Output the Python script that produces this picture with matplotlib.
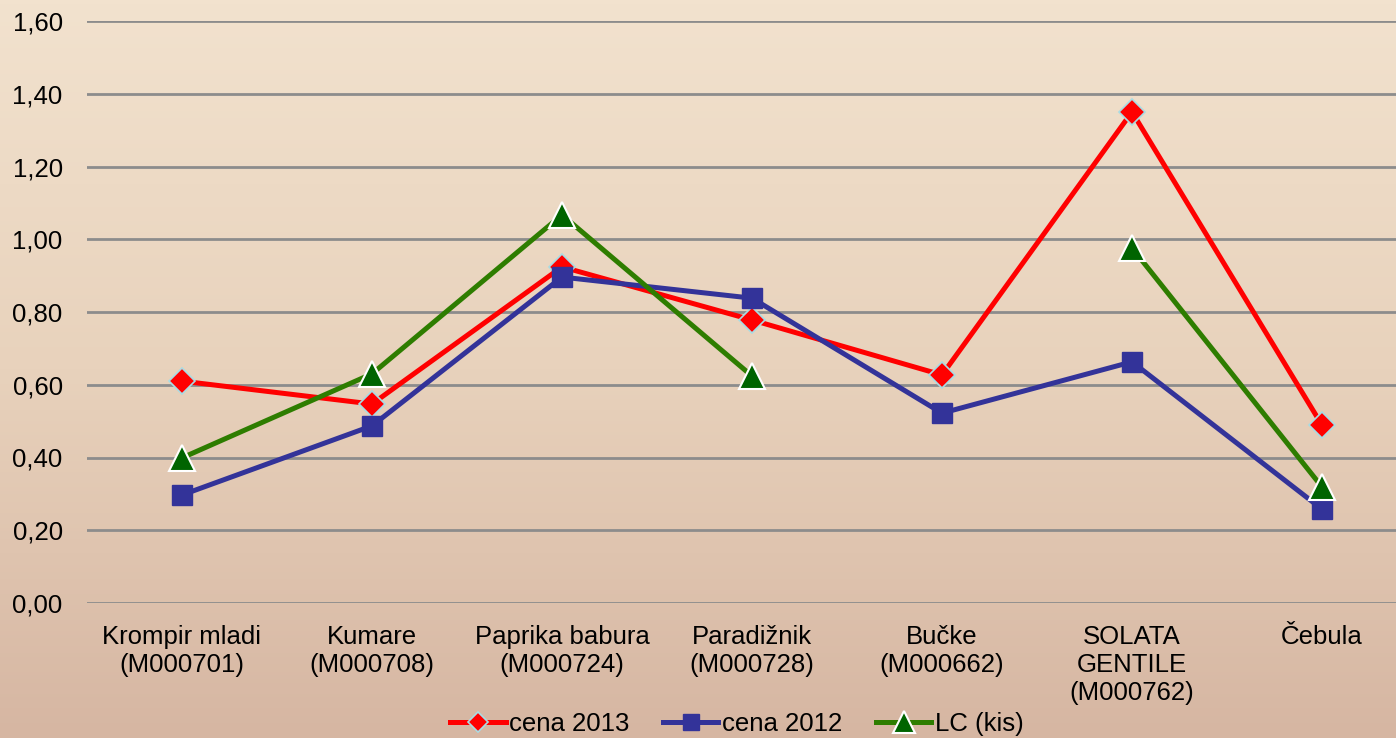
import numpy as np
import matplotlib
matplotlib.use("Agg")
import matplotlib.pyplot as plt

plt.rcParams['font.family'] = ['Liberation Sans', 'DejaVu Sans']

categories = ['Krompir mladi\n(M000701)', 'Kumare\n(M000708)', 'Paprika babura\n(M000724)',
              'Paradižnik\n(M000728)', 'Bučke\n(M000662)', 'SOLATA\nGENTILE\n(M000762)', 'Čebula']
cena_2013 = [0.61, 0.547, 0.924, 0.778, 0.627, 1.35, 0.489]
cena_2012 = [0.297, 0.487, 0.896, 0.838, 0.522, 0.663, 0.258]
lc_kis = [0.399, 0.63, 1.067, 0.624, np.nan, 0.976, 0.319]
yticks = [0.0, 0.2, 0.4, 0.6, 0.8, 1.0, 1.2, 1.4, 1.6]

fig = plt.figure(figsize=(13.96, 7.38), dpi=100)

# beige background (smooth gradient)
bg = fig.add_axes([0, 0, 1, 1], zorder=-10)
top = np.array([242, 226, 206]) / 255
mid = np.array([232, 210, 188]) / 255
bot = np.array([214, 182, 162]) / 255
t = np.linspace(0, 1, 200)[:, None]
grad = np.where(t < 0.5, top + (mid - top) * (t / 0.5), mid + (bot - mid) * ((t - 0.5) / 0.5))
bg.imshow(grad[:, None, :].repeat(2, axis=1), aspect='auto', extent=[0, 1, 0, 1])
bg.axis('off')

ax = fig.add_axes([87 / 1396, 1 - 603 / 738, 1 - 87 / 1396, (603 - 21) / 738])
ax.patch.set_alpha(0)
x = np.arange(len(categories))

ax.plot(x, cena_2013, color='#ff0000', lw=3.6, marker='D', ms=13,
        mfc='#ff0000', mec='#a8dce4', mew=1.2, label='cena 2013', zorder=3)
ax.plot(x, cena_2012, color='#333399', lw=3.6, marker='s', ms=14,
        mfc='#333399', mec='#333399', mew=1, label='cena 2012', zorder=4)
ax.plot(x, lc_kis, color='#2e7d00', lw=3.6, marker='^', ms=19,
        mfc='#006400', mec='white', mew=1.5, label='LC (kis)', zorder=5)

ax.set_xlim(-0.5, (1396 - 182) / 190)
ax.set_ylim(0, 1.6)
ax.set_yticks(yticks)
ax.set_yticklabels([f'{v:.2f}'.replace('.', ',') for v in yticks], fontsize=18.5)
ax.set_xticks(x)
ax.set_xticklabels(categories, fontsize=18.5, linespacing=1.2)
ax.tick_params(length=0)
ax.tick_params(axis='y', pad=17.5)
ax.tick_params(axis='x', pad=16)
ax.grid(axis='y', color='#8c8c8c', lw=2)
ax.set_axisbelow(True)
for s in ax.spines.values():
    s.set_visible(False)

fig.legend(loc='center', bbox_to_anchor=(737 / 1396, 1 - 724 / 738), ncol=3, frameon=False,
           fontsize=18.5, handlelength=2.15, handletextpad=0.15, columnspacing=1.3,
           markerscale=0.8, borderpad=0, borderaxespad=0)

fig.savefig('out.png', dpi=100)
